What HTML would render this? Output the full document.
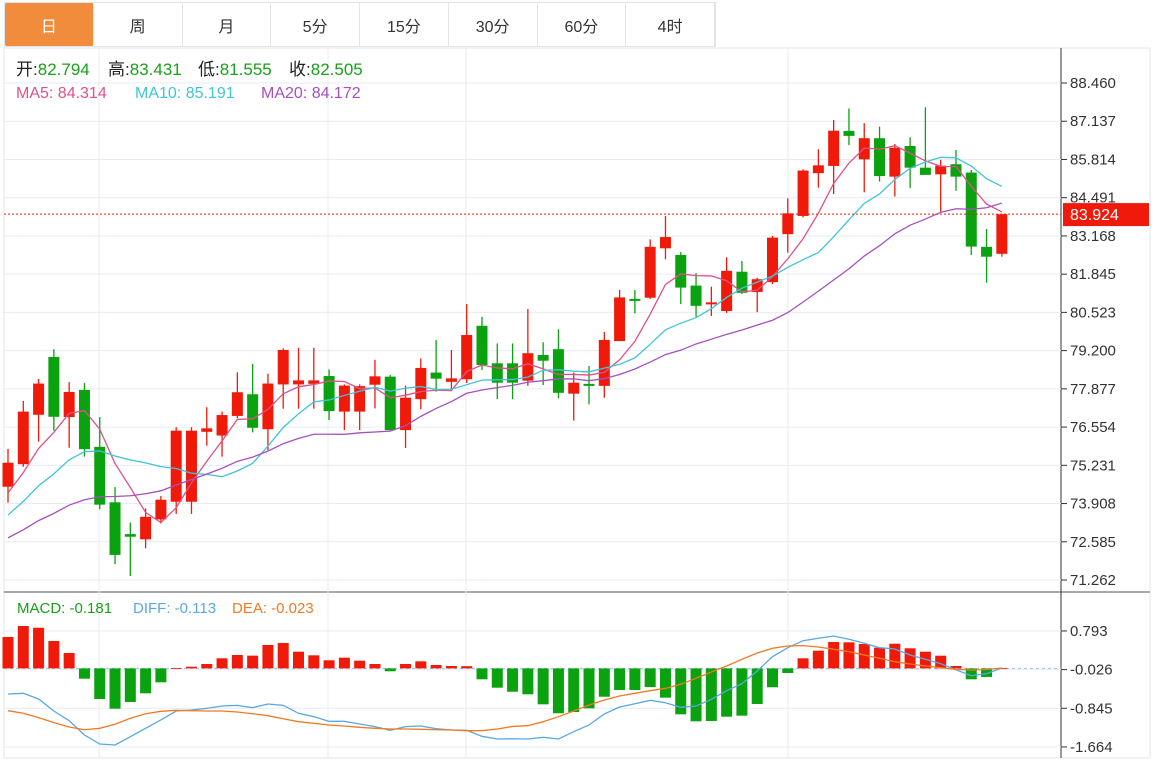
<!DOCTYPE html>
<html><head><meta charset="utf-8">
<style>
body{margin:0;background:#fff;width:1159px;height:763px;overflow:hidden;font-family:"Liberation Sans","Noto Sans CJK SC",sans-serif;}
.tabs{position:absolute;left:4px;top:2px;height:45px;width:712px;display:flex;border:1px solid #e2e5e8;box-sizing:border-box;}
.tab{flex:1;display:flex;align-items:center;justify-content:center;font-size:16px;color:#333;border-right:1px solid #e2e5e8;}
.tab.active{background:#f08c3c;color:#fff;border-radius:2px;}
svg{position:absolute;left:0;top:0;}
</style></head><body>
<div class="tabs">
<div class="tab active">日</div>
<div class="tab">周</div>
<div class="tab">月</div>
<div class="tab">5分</div>
<div class="tab">15分</div>
<div class="tab">30分</div>
<div class="tab">60分</div>
<div class="tab">4时</div>
</div>
<svg id="chart" width="1159" height="763"></svg>
<script>
const opens=[74.49,75.27,76.98,78.98,76.90,77.84,75.87,73.95,72.85,72.67,73.36,73.97,73.97,76.39,76.26,76.94,77.69,76.48,78.03,78.03,78.05,78.32,77.09,77.09,78.02,78.30,76.45,77.52,78.44,78.12,78.21,80.06,78.76,78.76,78.16,79.05,79.25,77.71,78.05,77.98,79.53,80.99,81.03,82.74,82.51,81.45,80.80,80.57,81.93,81.23,81.57,83.23,83.86,85.34,85.59,86.80,85.82,86.55,85.22,86.28,85.53,85.30,85.65,85.36,82.79,82.55];
const highs=[75.80,77.46,78.22,79.25,78.11,78.08,76.90,74.48,73.25,73.74,74.17,76.55,76.55,77.24,77.09,78.45,78.74,78.40,79.28,79.30,79.30,78.55,78.03,78.03,78.88,78.36,77.99,78.93,79.57,79.22,80.81,80.37,79.45,79.45,80.64,79.49,79.94,78.44,78.67,79.85,81.30,81.30,83.05,83.86,82.61,81.88,81.41,82.43,82.30,81.72,83.17,84.47,85.47,86.17,87.18,87.58,87.07,86.95,86.35,86.58,87.62,85.80,86.14,85.45,83.41,83.92];
const lows=[73.94,75.18,76.05,76.43,75.84,75.53,73.71,71.81,71.40,72.36,73.22,73.55,73.55,75.91,75.53,76.86,76.37,75.76,77.19,77.19,77.19,76.80,76.45,76.45,77.20,76.45,75.83,77.17,77.78,77.84,78.08,78.53,77.52,77.52,77.98,78.01,77.55,76.78,77.34,77.57,79.53,80.49,80.99,82.36,80.81,80.37,80.40,80.50,81.16,80.53,81.50,82.59,83.81,84.84,84.62,86.31,84.68,85.05,84.53,84.82,85.28,84.01,84.73,82.51,81.55,82.45];
const closes=[75.32,77.09,78.06,76.91,77.77,75.79,73.87,72.13,72.76,73.45,74.04,76.43,76.43,76.51,76.97,77.76,76.53,78.06,79.22,78.17,78.17,77.11,77.99,77.97,78.31,76.45,77.57,78.60,78.23,78.24,79.74,78.70,78.09,78.09,79.11,78.85,77.74,78.09,77.98,79.57,81.04,80.92,82.79,83.13,81.38,80.75,80.87,81.96,81.20,81.67,83.11,83.95,85.43,85.61,86.81,86.63,86.55,85.24,86.22,85.53,85.28,85.60,85.22,82.80,82.45,83.92];
const priorCloses=[71.5,71.7,71.9,72.1,72.0,71.8,72.0,72.2,72.1,72.0,72.4,72.6,72.8,72.9,73.0,73.6,73.9,74.1,74.48];
const macdHist=[0.665,0.898,0.862,0.58,0.326,-0.218,-0.648,-0.854,-0.712,-0.528,-0.295,0.005,0.036,0.093,0.214,0.284,0.27,0.496,0.538,0.354,0.277,0.172,0.227,0.163,0.093,-0.061,0.093,0.15,0.072,0.051,0.047,-0.231,-0.409,-0.494,-0.549,-0.761,-0.951,-0.924,-0.846,-0.6,-0.458,-0.458,-0.394,-0.62,-0.973,-1.121,-1.114,-1.023,-1.002,-0.754,-0.4,-0.097,0.214,0.375,0.559,0.553,0.517,0.439,0.523,0.426,0.354,0.269,0.051,-0.231,-0.181,0.005];
const diffLine=[-0.542,-0.528,-0.648,-0.903,-1.108,-1.411,-1.602,-1.623,-1.447,-1.269,-1.093,-0.903,-0.881,-0.846,-0.797,-0.783,-0.832,-0.754,-0.783,-0.951,-1.023,-1.121,-1.121,-1.178,-1.234,-1.312,-1.234,-1.22,-1.277,-1.305,-1.312,-1.439,-1.496,-1.49,-1.496,-1.46,-1.496,-1.341,-1.199,-0.966,-0.818,-0.748,-0.676,-0.727,-0.824,-0.797,-0.655,-0.472,-0.324,-0.055,0.248,0.439,0.587,0.638,0.686,0.617,0.532,0.439,0.411,0.284,0.193,0.1,-0.028,-0.155,-0.113,0.008];
const deaLine=[-0.896,-0.951,-1.044,-1.15,-1.241,-1.299,-1.269,-1.184,-1.057,-0.96,-0.909,-0.888,-0.896,-0.903,-0.903,-0.924,-0.96,-1.002,-1.066,-1.129,-1.163,-1.199,-1.22,-1.248,-1.269,-1.284,-1.284,-1.291,-1.299,-1.305,-1.32,-1.32,-1.284,-1.23,-1.214,-1.129,-1.023,-0.903,-0.775,-0.669,-0.585,-0.528,-0.472,-0.422,-0.337,-0.21,-0.076,0.051,0.193,0.326,0.426,0.475,0.482,0.453,0.405,0.354,0.284,0.214,0.142,0.093,0.051,0.015,-0.02,-0.034,-0.023,0.008];
const priceTicks=["88.460","87.137","85.814","84.491","83.168","81.845","80.523","79.200","77.877","76.554","75.231","73.908","72.585","71.262"];
const macdTicks=["0.793","-0.026","-0.845","-1.664"];
const lastPrice=83.924;

const NS="http://www.w3.org/2000/svg";
const svg=document.getElementById('chart');
function mk(tag,attrs,parent){const e=document.createElementNS(NS,tag);for(const k in attrs)e.setAttribute(k,attrs[k]);(parent||svg).appendChild(e);return e;}
const RED="#f01a0a",GREEN="#0aa20e";
const xAt=i=>8+i*15.29;
const yP=p=>83+(88.460-p)*28.9;
const yM=v=>668.4-v*47.2;
const AXX=1061;

const frame=mk('g',{});


mk('rect',{x:4,y:48,width:1146,height:710,fill:'none',stroke:'#e2e5e8'},frame);
mk('line',{x1:4,y1:592,x2:1150,y2:592,stroke:'#555'},frame);
mk('line',{x1:AXX,y1:48,x2:AXX,y2:758,stroke:'#333'},frame);
[99,328,466,788].forEach(x=>{mk('line',{x1:x,y1:48,x2:x,y2:758,stroke:'#e6ecf2'},frame);});

const pAxis=mk('g',{});


priceTicks.forEach(t=>{const y=yP(parseFloat(t));
 mk('line',{x1:4,y1:y,x2:AXX,y2:y,stroke:'#e6ecf2'},pAxis);
 mk('line',{x1:AXX,y1:y,x2:AXX+6,y2:y,stroke:'#333'},pAxis);
 const tx=mk('text',{x:AXX+9,y:y+5,'font-size':15,fill:'#333'},pAxis);tx.textContent=t;
 
 
});
const mAxis=mk('g',{});


macdTicks.forEach(t=>{const y=yM(parseFloat(t));
 mk('line',{x1:4,y1:y,x2:AXX,y2:y,stroke:'#e6ecf2'},mAxis);
 mk('line',{x1:AXX,y1:y,x2:AXX+6,y2:y,stroke:'#333'},mAxis);
 const tx=mk('text',{x:AXX+9,y:y+5,'font-size':15,fill:'#333'},mAxis);tx.textContent=t;
 
 
});

const cg=mk('g',{});


closes.forEach((c,i)=>{const o=opens[i],up=c>=o,col=up?RED:GREEN,x=xAt(i);
 const g=mk('g',{},cg);
 
 
 mk('line',{x1:x,y1:yP(highs[i]),x2:x,y2:yP(lows[i]),stroke:col,'stroke-width':1.3},g);
 const top=yP(Math.max(o,c)),bot=yP(Math.min(o,c));
 mk('rect',{x:x-5.5,y:top,width:11,height:Math.max(bot-top,1.5),fill:col},g);
});

const all=priorCloses.concat(closes);
function ma(n){return closes.map((_,i)=>{const j=i+priorCloses.length;let s=0;for(let k=j-n+1;k<=j;k++)s+=all[k];return s/n;});}
[[5,'#e0508a','ma5-line'],[10,'#40c4d8','ma10-line'],[20,'#a650c0','ma20-line']].forEach(([n,col,name])=>{
 const v=ma(n);const p=mk('polyline',{points:v.map((m,i)=>xAt(i)+','+yP(m)).join(' '),fill:'none',stroke:col,'stroke-width':1.3});
 
 
});

const lp=mk('line',{x1:4,y1:yP(lastPrice),x2:AXX,y2:yP(lastPrice),stroke:RED,'stroke-dasharray':'2,2'});


const lb=mk('rect',{x:AXX+2,y:yP(lastPrice)-11,width:86,height:23,fill:RED});


const lt=mk('text',{x:AXX+9,y:yP(lastPrice)+6,'font-size':16,fill:'#fff'});lt.textContent=lastPrice.toFixed(3);



const zl=mk('line',{x1:4,y1:yM(0),x2:AXX,y2:yM(0),stroke:'#9cc3e0','stroke-dasharray':'3,3'});


const hg=mk('g',{});


macdHist.forEach((v,i)=>{const y0=yM(0),y1=yM(v);
 const r=mk('rect',{x:xAt(i)-5.5,y:Math.min(y0,y1),width:11,height:Math.max(Math.abs(y1-y0),0.8),fill:v>=0?RED:GREEN},hg);
 
 
});
[[diffLine,'#5aa8e2','diff-line'],[deaLine,'#f07a22','dea-line']].forEach(([arr,col,name])=>{
 const p=mk('polyline',{points:arr.map((v,i)=>xAt(i)+','+yM(v)).join(' '),fill:'none',stroke:col,'stroke-width':1.3});
 
 
});

function label(x,y,parts,name,size){const t=mk('text',{x:x,y:y,'font-size':size});
 
 
 parts.forEach(([s,c])=>{const sp=mk('tspan',{fill:c},t);sp.textContent=s;});}
label(16,75,[['开:','#222'],['82.794','#1aa01a']],'legend-open',17);
label(108,75,[['高:','#222'],['83.431','#1aa01a']],'legend-high',17);
label(198,75,[['低:','#222'],['81.555','#1aa01a']],'legend-low',17);
label(289,75,[['收:','#222'],['82.505','#1aa01a']],'legend-close',17);
label(16,98,[['MA5: 84.314','#e0508a']],'legend-ma5',16);
label(135,98,[['MA10: 85.191','#40c4d8']],'legend-ma10',16);
label(261,98,[['MA20: 84.172','#a650c0']],'legend-ma20',16);
label(17,613,[['MACD: -0.181','#1aa01a']],'legend-macd',15);
label(133,613,[['DIFF: -0.113','#5aa8e2']],'legend-diff',15);
label(232,613,[['DEA: -0.023','#f07a22']],'legend-dea',15);
</script>
</body></html>
